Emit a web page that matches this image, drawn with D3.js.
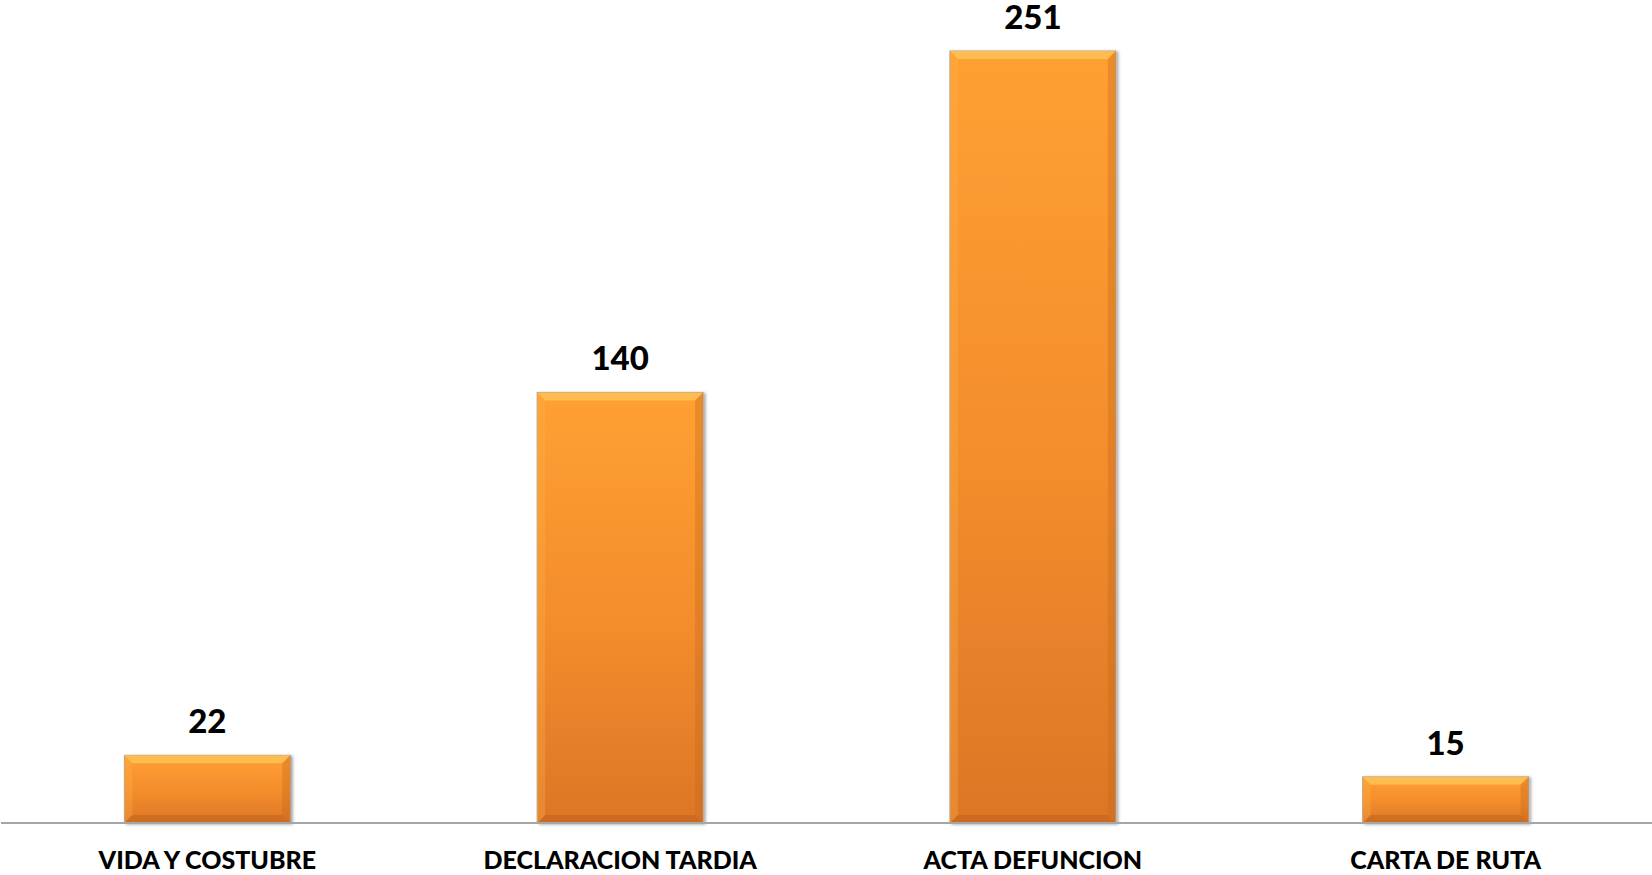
<!DOCTYPE html>
<html>
<head>
<meta charset="utf-8">
<script src="https://cdn.jsdelivr.net/npm/d3@7"></script>
<style>
  html, body { margin: 0; padding: 0; background: #fff; }
  svg { display: block; }
</style>
</head>
<body>
<div id="chart"></div>
<script>
// Chart data
const categories = ["VIDA Y COSTUBRE", "DECLARACION TARDIA", "ACTA DEFUNCION", "CARTA DE RUTA"];
const values = [22, 140, 251, 15];

const WIDTH = 1652, HEIGHT = 875;
const BASELINE = 823, TOP = 51;
const BEVEL = 8;
const FONT = "Lato, 'Open Sans', Arial, sans-serif";

let svg = d3.select("#chart").append("svg")
    .attr("width", WIDTH)
    .attr("height", HEIGHT);

let defs = svg.append("defs");

let grad = defs.append("linearGradient")
    .attr("id", "barFill")
    .attr("x1", 0).attr("y1", 0).attr("x2", 0).attr("y2", 1);
grad.append("stop").attr("offset", "0%").attr("stop-color", "#ffa032");
grad.append("stop").attr("offset", "55%").attr("stop-color", "#f38c2c");
grad.append("stop").attr("offset", "100%").attr("stop-color", "#dc7626");

let shadow = defs.append("filter").attr("id", "shadow")
    .attr("x", "-10%").attr("y", "-10%").attr("width", "130%").attr("height", "130%");
shadow.append("feDropShadow")
    .attr("dx", 2).attr("dy", 1).attr("stdDeviation", 1.5)
    .attr("flood-color", "#000").attr("flood-opacity", 0.35);

let x = d3.scaleBand()
    .domain(categories)
    .range([1, WIDTH])
    .paddingInner(0.598)
    .paddingOuter(0.299);

let y = d3.scaleLinear()
    .domain([0, d3.max(values)])
    .range([BASELINE, TOP]);

let data = categories.map((c, i) => ({ name: c, value: values[i] }));

let bars = svg.append("g").selectAll(".bar")
    .data(data)
    .enter()
    .append("g")
    .attr("class", "bar")
    .attr("filter", "url(#shadow)");

bars.append("rect")
    .attr("x", d => x(d.name))
    .attr("y", d => y(d.value))
    .attr("width", x.bandwidth())
    .attr("height", d => BASELINE - y(d.value))
    .attr("fill", "url(#barFill)")
    .attr("stroke", "#b9a08a")
    .attr("stroke-width", 1);

// bevel edges: top light, bottom dark, sides slightly shaded
bars.each(function (d) {
    let g = d3.select(this);
    let x0 = x(d.name), x1 = x0 + x.bandwidth();
    let y0 = y(d.value), y1 = BASELINE;
    let b = Math.min(BEVEL, (y1 - y0) / 2);
    let poly = (pts, fill, op) => g.append("polygon")
        .attr("points", pts.map(p => p.join(",")).join(" "))
        .attr("fill", fill)
        .attr("opacity", op);
    poly([[x0, y0], [x1, y0], [x1 - b, y0 + b], [x0 + b, y0 + b]], "#ffc75a", 0.75);
    poly([[x0, y1], [x1, y1], [x1 - b, y1 - b], [x0 + b, y1 - b]], "#b85f1c", 0.45);
    poly([[x0, y0], [x0 + b, y0 + b], [x0 + b, y1 - b], [x0, y1]], "#ffb448", 0.3);
    poly([[x1, y0], [x1 - b, y0 + b], [x1 - b, y1 - b], [x1, y1]], "#c4661e", 0.35);
});

// value labels
svg.append("g").selectAll(".value")
    .data(data)
    .enter()
    .append("text")
    .attr("class", "value")
    .attr("x", d => x(d.name) + x.bandwidth() / 2)
    .attr("y", d => y(d.value) - 22)
    .attr("text-anchor", "middle")
    .style("font-family", FONT)
    .style("font-weight", "900")
    .style("font-size", "33px")
    .attr("fill", "#000")
    .text(d => d.value);

// baseline axis with category labels
let axis = svg.append("g")
    .attr("transform", `translate(0,${BASELINE})`)
    .call(d3.axisBottom(x).tickSize(0).tickPadding(28));

axis.select(".domain")
    .attr("d", `M1,0H${WIDTH}`)
    .attr("stroke", "#a6a6a6")
    .attr("stroke-width", 2);

axis.selectAll("text")
    .style("font-family", FONT)
    .style("font-weight", "900")
    .style("font-size", "25px")
    .attr("fill", "#000");
</script>
</body>
</html>
